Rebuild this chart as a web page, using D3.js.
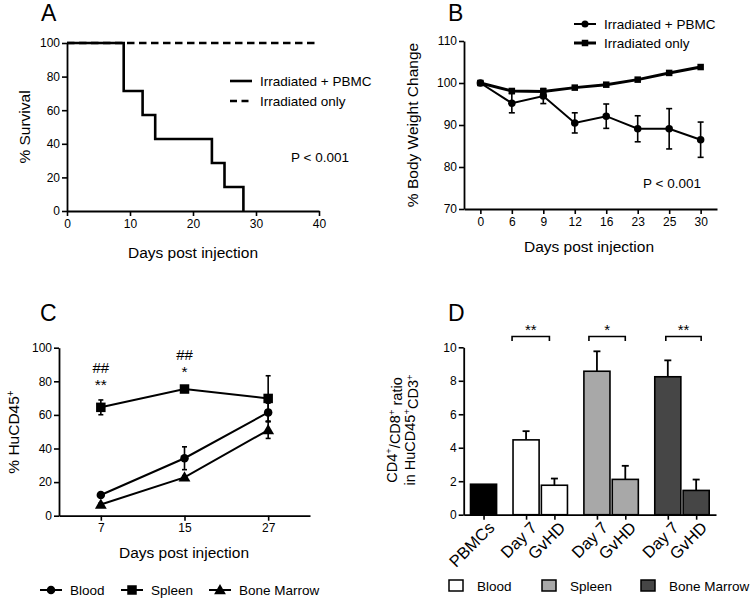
<!DOCTYPE html>
<html><head><meta charset="utf-8">
<script src="https://cdn.jsdelivr.net/npm/d3@7"></script>
<style>
html,body{margin:0;padding:0;background:#fff;}
svg{display:block;}
text{font-family:"Liberation Sans",Arial,sans-serif;fill:#000;}
</style></head>
<body>
<svg id="fig" width="752" height="602"></svg>
<script>
// ---------- DATA ----------
// Panel A: Kaplan-Meier survival
const survivalDays = [0, 9, 12, 14, 23, 25, 28];
const survivalPBMC = [100, 71.4, 57.1, 42.9, 28.6, 14.3, 0];
const survivalIrrDays = [0, 40];
const survivalIrr = [100, 100];
const aTicksX = [0, 10, 20, 30, 40];
const aTicksY = [0, 20, 40, 60, 80, 100];

// Panel B: body weight
const bDays = ["0", "6", "9", "12", "16", "23", "25", "30"];
const bPBMC = [100, 95.2, 96.9, 90.5, 92.1, 89.1, 89.1, 86.5];
const bPBMCErr = [0, 2.3, 1.8, 2.4, 2.9, 3.1, 4.8, 4.2];
const bIrr = [100, 98.1, 98.0, 98.9, 99.6, 100.8, 102.4, 103.8];
const bIrrErr = [0, 0.3, 0.3, 0.3, 0.3, 0.3, 0.3, 0.3];
const bTicksY = [70, 80, 90, 100, 110];

// Panel C: %HuCD45+
const cDays = ["7", "15", "27"];
const cBlood = [12.3, 34.2, 61.5];
const cBloodErr = [1.0, 6.8, 5.5];
const cSpleen = [64.5, 75.4, 69.8];
const cSpleenErr = [4.4, 1.2, 13.5];
const cMarrow = [6.7, 22.8, 51.0];
const cMarrowErr = [0.8, 1.0, 5.0];
const cHash = ["##", "##", ""];
const cStars = ["**", "*", ""];
const cTicksY = [0, 20, 40, 60, 80, 100];

// Panel D: CD4/CD8 ratio
const dGroups = ["PBMCs", "Blood", "Blood", "Spleen", "Spleen", "Bone Marrow", "Bone Marrow"];
const dLabels = ["PBMCs", "Day 7", "GvHD", "Day 7", "GvHD", "Day 7", "GvHD"];
const dValues = [1.82, 4.47, 1.76, 8.57, 2.11, 8.24, 1.45];
const dErr = [0, 0.52, 0.40, 1.19, 0.81, 0.98, 0.65];
const dSigGroups = ["Blood", "Spleen", "Bone Marrow"];
const dSigStars = ["**", "*", "**"];
const dTicksY = [0, 2, 4, 6, 8, 10];
const legendTissues = ["Blood", "Spleen", "Bone Marrow"];
const tissueColors = {"PBMCs": "#000000", "Blood": "#ffffff", "Spleen": "#a8a8a8", "Bone Marrow": "#464646"};

// ---------- DRAW ----------
const svg = d3.select("#fig");
const TICK_FS = 12, TITLE_FS = 15.5, LEG_FS = 13.5, LETTER_FS = 23;

function styleAxis(g) {
  g.selectAll("path.domain").attr("stroke", "#000").attr("stroke-width", 1.8);
  g.selectAll(".tick line").attr("stroke", "#000").attr("stroke-width", 1.6);
  g.selectAll(".tick text").attr("font-size", TICK_FS).attr("font-family", '"Liberation Sans",Arial,sans-serif').attr("fill", "#000");
}
function letter(x, y, t) {
  svg.append("text").attr("x", x).attr("y", y).attr("font-size", LETTER_FS).text(t);
}
function xTitle(x, y, t) {
  svg.append("text").attr("x", x).attr("y", y).attr("text-anchor", "middle").attr("font-size", TITLE_FS).text(t);
}
function yTitle(x, y, t) {
  return svg.append("text").attr("transform", `translate(${x},${y}) rotate(-90)`)
    .attr("text-anchor", "middle").attr("font-size", TITLE_FS).text(t);
}
function marker(g, type, cx, cy, s) {
  if (type === "circle") g.append("circle").attr("cx", cx).attr("cy", cy).attr("r", s / 2).attr("fill", "#000");
  else if (type === "square") g.append("rect").attr("x", cx - s / 2).attr("y", cy - s / 2).attr("width", s).attr("height", s).attr("fill", "#000");
  else if (type === "triangle") g.append("path").attr("d", d3.symbol(d3.symbolTriangle, s * s * 0.5)()).attr("transform", `translate(${cx},${cy + 0.8})`).attr("fill", "#000");
}

// ===== Panel A =====
{
  const x = d3.scaleLinear().domain([0, 40]).range([67, 319]);
  const y = d3.scaleLinear().domain([0, 100]).range([211, 43]);
  const gx = svg.append("g").attr("transform", `translate(0,${y(0)})`)
    .call(d3.axisBottom(x).tickValues(aTicksX).tickSize(5).tickSizeOuter(0).tickPadding(3));
  styleAxis(gx);
  const gy = svg.append("g").attr("transform", `translate(${x(0)},0)`)
    .call(d3.axisLeft(y).tickValues(aTicksY).tickSize(5).tickSizeOuter(0).tickPadding(2));
  styleAxis(gy);
  const line = d3.line().x(d => x(d[0])).y(d => y(d[1]));
  svg.append("path").datum(survivalIrrDays.map((d, i) => [d, survivalIrr[i]]))
    .attr("d", line).attr("fill", "none").attr("stroke", "#000").attr("stroke-width", 2.6).attr("stroke-dasharray", "7.5,4.5");
  svg.append("path").datum(survivalDays.map((d, i) => [d, survivalPBMC[i]]))
    .attr("d", line.curve(d3.curveStepAfter)).attr("fill", "none").attr("stroke", "#000").attr("stroke-width", 2.6);
  // legend
  const lg = svg.append("g");
  lg.append("line").attr("x1", 230).attr("x2", 252).attr("y1", 81).attr("y2", 81).attr("stroke", "#000").attr("stroke-width", 2.6);
  lg.append("line").attr("x1", 230).attr("x2", 252).attr("y1", 101).attr("y2", 101).attr("stroke", "#000").attr("stroke-width", 2.6).attr("stroke-dasharray", "7,4.5");
  lg.append("text").attr("x", 260).attr("y", 86).attr("font-size", LEG_FS).text("Irradiated + PBMC");
  lg.append("text").attr("x", 260).attr("y", 106).attr("font-size", LEG_FS).text("Irradiated only");
  svg.append("text").attr("x", 291).attr("y", 162).attr("font-size", LEG_FS).text("P < 0.001");
  letter(41, 21, "A");
  yTitle(30, 127, "% Survival");
  xTitle(193, 258, "Days post injection");
}

// ===== Panel B =====
{
  const x = d3.scalePoint().domain(bDays).range([464, 717]).padding(0.52);
  const y = d3.scaleLinear().domain([70, 110]).range([209, 41]);
  const gx = svg.append("g").attr("transform", `translate(0,${y(70)})`)
    .call(d3.axisBottom(x).tickSize(5).tickSizeOuter(0).tickPadding(3));
  styleAxis(gx);
  const gy = svg.append("g").attr("transform", `translate(464,0)`)
    .call(d3.axisLeft(y).tickValues(bTicksY).tickSize(5).tickSizeOuter(0).tickPadding(2));
  styleAxis(gy);
  const g = svg.append("g");
  const line = d3.line().x(d => x(d[0])).y(d => y(d[1]));
  function errBars(vals, errs, w) {
    bDays.forEach((d, i) => {
      if (!errs[i]) return;
      const cx = x(d);
      g.append("line").attr("x1", cx).attr("x2", cx).attr("y1", y(vals[i] - errs[i])).attr("y2", y(vals[i] + errs[i])).attr("stroke", "#000").attr("stroke-width", 1.6);
      [vals[i] - errs[i], vals[i] + errs[i]].forEach(v => g.append("line").attr("x1", cx - w).attr("x2", cx + w).attr("y1", y(v)).attr("y2", y(v)).attr("stroke", "#000").attr("stroke-width", 1.6));
    });
  }
  errBars(bPBMC, bPBMCErr, 3);
  g.append("path").datum(bDays.map((d, i) => [d, bPBMC[i]])).attr("d", line).attr("fill", "none").attr("stroke", "#000").attr("stroke-width", 2);
  g.append("path").datum(bDays.map((d, i) => [d, bIrr[i]])).attr("d", line).attr("fill", "none").attr("stroke", "#000").attr("stroke-width", 3);
  bDays.forEach((d, i) => marker(g, "circle", x(d), y(bPBMC[i]), 7.5));
  bDays.forEach((d, i) => marker(g, "square", x(d), y(bIrr[i]), 6.5));
  // legend
  const lg = svg.append("g");
  lg.append("line").attr("x1", 574).attr("x2", 596).attr("y1", 24).attr("y2", 24).attr("stroke", "#000").attr("stroke-width", 2);
  marker(lg, "circle", 585, 24, 7);
  lg.append("line").attr("x1", 574).attr("x2", 596).attr("y1", 43).attr("y2", 43).attr("stroke", "#000").attr("stroke-width", 3);
  marker(lg, "square", 585, 43, 6.5);
  lg.append("text").attr("x", 604).attr("y", 29).attr("font-size", LEG_FS).text("Irradiated + PBMC");
  lg.append("text").attr("x", 604).attr("y", 48).attr("font-size", LEG_FS).text("Irradiated only");
  svg.append("text").attr("x", 643).attr("y", 188).attr("font-size", LEG_FS).text("P < 0.001");
  letter(448, 21, "B");
  yTitle(418, 125, "% Body Weight Change");
  xTitle(589, 252, "Days post injection");
}

// ===== Panel C =====
{
  const x = d3.scalePoint().domain(cDays).range([59, 310]).padding(0.5);
  const y = d3.scaleLinear().domain([0, 100]).range([515.7, 347.7]);
  const gx = svg.append("g").attr("transform", `translate(0,${y(0)})`)
    .call(d3.axisBottom(x).tickSize(5).tickSizeOuter(0).tickPadding(3));
  styleAxis(gx);
  const gy = svg.append("g").attr("transform", `translate(59,0)`)
    .call(d3.axisLeft(y).tickValues(cTicksY).tickSize(5).tickSizeOuter(0).tickPadding(2));
  styleAxis(gy);
  const g = svg.append("g");
  const line = d3.line().x(d => x(d[0])).y(d => y(d[1]));
  const series = [
    {vals: cBlood, errs: cBloodErr, m: "circle", s: 8.5},
    {vals: cSpleen, errs: cSpleenErr, m: "square", s: 9.5},
    {vals: cMarrow, errs: cMarrowErr, m: "triangle", s: 11}
  ];
  series.forEach(sr => {
    cDays.forEach((d, i) => {
      const cx = x(d), v = sr.vals[i], e = sr.errs[i];
      g.append("line").attr("x1", cx).attr("x2", cx).attr("y1", y(v - e)).attr("y2", y(v + e)).attr("stroke", "#000").attr("stroke-width", 1.6);
      [v - e, v + e].forEach(t => g.append("line").attr("x1", cx - 2.5).attr("x2", cx + 2.5).attr("y1", y(t)).attr("y2", y(t)).attr("stroke", "#000").attr("stroke-width", 1.6));
    });
  });
  series.forEach(sr => {
    g.append("path").datum(cDays.map((d, i) => [d, sr.vals[i]])).attr("d", line).attr("fill", "none").attr("stroke", "#000").attr("stroke-width", 2);
    cDays.forEach((d, i) => marker(g, sr.m, x(d), y(sr.vals[i]), sr.s));
  });
  cDays.forEach((d, i) => {
    const top = y(cSpleen[i] + cSpleenErr[i]);
    svg.append("text").attr("x", x(d)).attr("y", top - 10).attr("text-anchor", "middle").attr("font-size", 15.5).text(cStars[i]);
    svg.append("text").attr("x", x(d)).attr("y", top - 27).attr("text-anchor", "middle").attr("font-size", 15).text(cHash[i]);
  });
  // legend
  const lg = svg.append("g");
  const legItems = [["Blood", "circle", 40, 8.5], ["Spleen", "square", 121, 9.5], ["Bone Marrow", "triangle", 209, 11]];
  legItems.forEach(([t, m, lx, s]) => {
    lg.append("line").attr("x1", lx).attr("x2", lx + 22).attr("y1", 590).attr("y2", 590).attr("stroke", "#000").attr("stroke-width", 2);
    marker(lg, m, lx + 11, 590, s);
    lg.append("text").attr("x", lx + 30).attr("y", 595).attr("font-size", LEG_FS).text(t);
  });
  letter(40, 321, "C");
  const yt = svg.append("text").attr("transform", `translate(19,432) rotate(-90)`).attr("text-anchor", "middle").attr("font-size", TITLE_FS);
  yt.append("tspan").text("% HuCD45");
  yt.append("tspan").attr("dy", "-0.55em").attr("font-size", 10).text("+");
  xTitle(184, 558, "Days post injection");
}

// ===== Panel D =====
{
  const slots = [];
  let pos = 0;
  dGroups.forEach((gname, i) => {
    if (i > 0) pos += (gname === dGroups[i - 1]) ? 1 : 1.5;
    slots.push(pos);
  });
  const x = d3.scaleLinear().domain([-0.7, 8.2]).range([463.7, 716]);
  const y = d3.scaleLinear().domain([0, 10]).range([514.7, 347.3]);
  const bw = 0.92;
  const gy = svg.append("g").attr("transform", `translate(463.7,0)`)
    .call(d3.axisLeft(y).tickValues(dTicksY).tickSize(5).tickSizeOuter(0).tickPadding(2));
  styleAxis(gy);
  const g = svg.append("g");
  dValues.forEach((v, i) => {
    if (!dErr[i]) return;
    const cx = x(slots[i]);
    g.append("line").attr("x1", cx).attr("x2", cx).attr("y1", y(v)).attr("y2", y(v + dErr[i])).attr("stroke", "#000").attr("stroke-width", 1.8);
    g.append("line").attr("x1", cx - 3.5).attr("x2", cx + 3.5).attr("y1", y(v + dErr[i])).attr("y2", y(v + dErr[i])).attr("stroke", "#000").attr("stroke-width", 1.8);
  });
  g.selectAll("rect.bar").data(dValues).join("rect").attr("class", "bar")
    .attr("x", (d, i) => x(slots[i] - bw / 2)).attr("width", (d, i) => x(slots[i] + bw / 2) - x(slots[i] - bw / 2))
    .attr("y", d => y(d)).attr("height", d => y(0) - y(d))
    .attr("fill", (d, i) => tissueColors[dGroups[i]]).attr("stroke", "#000").attr("stroke-width", 1.6);
  const gx = svg.append("g").attr("transform", `translate(0,${y(0)})`)
    .call(d3.axisBottom(x).tickValues(slots).tickSize(5).tickSizeOuter(0).tickFormat(""));
  styleAxis(gx);
  slots.forEach((s, i) => {
    svg.append("text").attr("transform", `translate(${x(s) + 12},${y(0) + 14}) rotate(-45)`)
      .attr("text-anchor", "end").attr("font-size", 16.5).text(dLabels[i]);
  });
  dSigGroups.forEach((gname, k) => {
    const idx = dGroups.map((d, i) => d === gname ? i : -1).filter(i => i >= 0);
    const x1 = x(slots[idx[0]]) - 14 + k * 6, x2 = x(slots[idx[1]]) - 5 + k * 5;
    const by = 336.5;
    svg.append("path").attr("d", `M${x1},${by + 4.5}V${by}H${x2}V${by + 4.5}`).attr("fill", "none").attr("stroke", "#000").attr("stroke-width", 1.6);
    svg.append("text").attr("x", (x1 + x2) / 2).attr("y", by - 2).attr("text-anchor", "middle").attr("font-size", 15).text(dSigStars[k]);
  });
  const legX = [449, 542, 641];
  legendTissues.forEach((t, i) => {
    svg.append("rect").attr("x", legX[i]).attr("y", 580).attr("width", 14).attr("height", 11)
      .attr("fill", tissueColors[t]).attr("stroke", "#000").attr("stroke-width", 1.5);
    svg.append("text").attr("x", legX[i] + 28).attr("y", 591).attr("font-size", LEG_FS).text(t);
  });
  letter(448, 321, "D");
  const t1 = svg.append("text").attr("transform", `translate(397,430) rotate(-90)`).attr("text-anchor", "middle").attr("font-size", 14.5);
  t1.append("tspan").text("CD4");
  t1.append("tspan").attr("dy", "-0.5em").attr("font-size", 9.5).text("+");
  t1.append("tspan").attr("dy", "0.5em").text("/CD8");
  t1.append("tspan").attr("dy", "-0.5em").attr("font-size", 9.5).text("+");
  t1.append("tspan").attr("dy", "0.5em").text(" ratio");
  const t2 = svg.append("text").attr("transform", `translate(415,430) rotate(-90)`).attr("text-anchor", "middle").attr("font-size", 14.5);
  t2.append("tspan").text("in HuCD45");
  t2.append("tspan").attr("dy", "-0.5em").attr("font-size", 9.5).text("+");
  t2.append("tspan").attr("dy", "0.5em").text("CD3");
  t2.append("tspan").attr("dy", "-0.5em").attr("font-size", 9.5).text("+");
}
</script>
</body></html>
